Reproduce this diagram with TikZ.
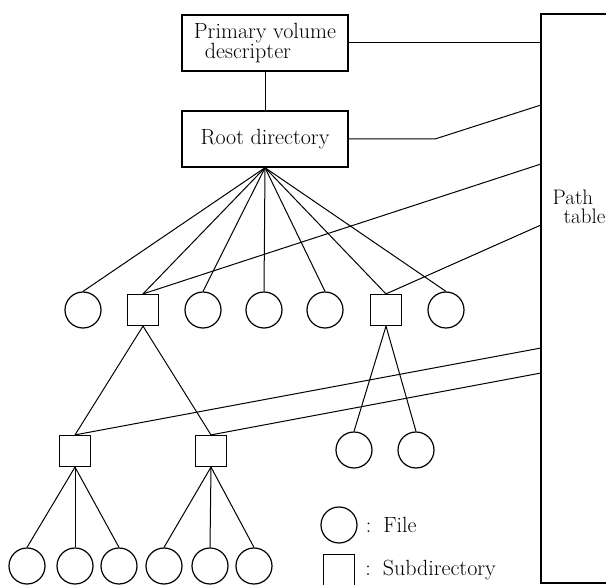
\documentclass[tikz,border=0pt]{standalone}
\usepackage{tikz}
\usetikzlibrary{positioning}
\tikzset{
  boxnode/.style={rectangle,draw,line width=1.4pt,minimum width=166pt,minimum height=56pt,
    align=left,inner sep=0pt,font=\fontsize{22}{19}\selectfont},
  filenode/.style={circle,draw,line width=1.2pt,minimum size=36pt,inner sep=0pt},
  dirnode/.style={rectangle,draw,line width=1.2pt,minimum size=31pt,inner sep=0pt},
  tblnode/.style={rectangle,draw,line width=1.2pt,minimum width=150pt,minimum height=569pt},
  lbl/.style={inner sep=0pt,align=left,font=\fontsize{22}{19}\selectfont},
  ln/.style={line width=1pt}
}

\begin{document}
\begin{tikzpicture}[x=1pt,y=-1pt]
  \useasboundingbox (0,0) rectangle (606,585);
  \clip (0,0) rectangle (606,585);

  % boxes
  \node[boxnode] (pvd) at (265,43) {Primary volume\\\hspace{11pt}descripter};
  \node[boxnode,align=center] (root) at (265,139) {Root directory};
  \node[tblnode] (ptab) at (616,298.5) {};
  \node[lbl,font=\fontsize{21}{19}\selectfont] (ptlbl) at (579,207) {Path\\\hspace{11pt}table};

  % first level
  \node[filenode] (f1) at (83,310) {};
  \node[dirnode] (d1) at (143,310) {};
  \node[filenode] (f2) at (203,310) {};
  \node[filenode] (f3) at (264,310) {};
  \node[filenode] (f4) at (325,310) {};
  \node[dirnode] (d2) at (386,310) {};
  \node[filenode] (f5) at (446,310) {};

  % second level
  \node[dirnode] (d3) at (75,451) {};
  \node[dirnode] (d4) at (211,451) {};
  \node[filenode] (f6) at (354,450) {};
  \node[filenode] (f7) at (416,450) {};

  % third level
  \node[filenode] (f8) at (27,566) {};
  \node[filenode] (f9) at (75,566) {};
  \node[filenode] (f10) at (119,566) {};
  \node[filenode] (f11) at (164,566) {};
  \node[filenode] (f12) at (210,566) {};
  \node[filenode] (f13) at (254,566) {};

  % legend
  \node[filenode] (lf) at (339,525) {};
  \node[dirnode] (ld) at (339,570) {};
  \node[lbl,right=8pt of lf] (lftxt) {:\hspace{12pt}File};
  \node[lbl,right=10pt of ld] (ldtxt) {:\hspace{12pt}Subdirectory};

  % entries of the path table
  \coordinate (p1) at (541,43);
  \coordinate (rbend) at (435,139);
  \coordinate (p2) at (541,105);
  \coordinate (p3) at (541,164);
  \coordinate (p4) at (541,225);
  \coordinate (p5) at (541,348);
  \coordinate (p6) at (541,373);

  \draw[ln] (pvd) -- (root);
  \draw[ln] (pvd.east) -- (p1);
  \draw[ln] (root.east) -- (rbend) -- (p2);
  \draw[ln] (d1.north) -- (p3);
  \draw[ln] (d2.north) -- (p4);
  \draw[ln] (d3.north) -- (p5);
  \draw[ln] (d4.north) -- (p6);

  \foreach \n in {f1,d1,f2,f3,f4,d2,f5}
    \draw[ln] (root.south) -- (\n.north);
  \draw[ln] (d1.south) -- (d3.north);
  \draw[ln] (d1.south) -- (d4.north);
  \draw[ln] (d2.south) -- (f6.north);
  \draw[ln] (d2.south) -- (f7.north);
  \foreach \n in {f8,f9,f10}
    \draw[ln] (d3.south) -- (\n.north);
  \foreach \n in {f11,f12,f13}
    \draw[ln] (d4.south) -- (\n.north);

\end{tikzpicture}
\end{document}
